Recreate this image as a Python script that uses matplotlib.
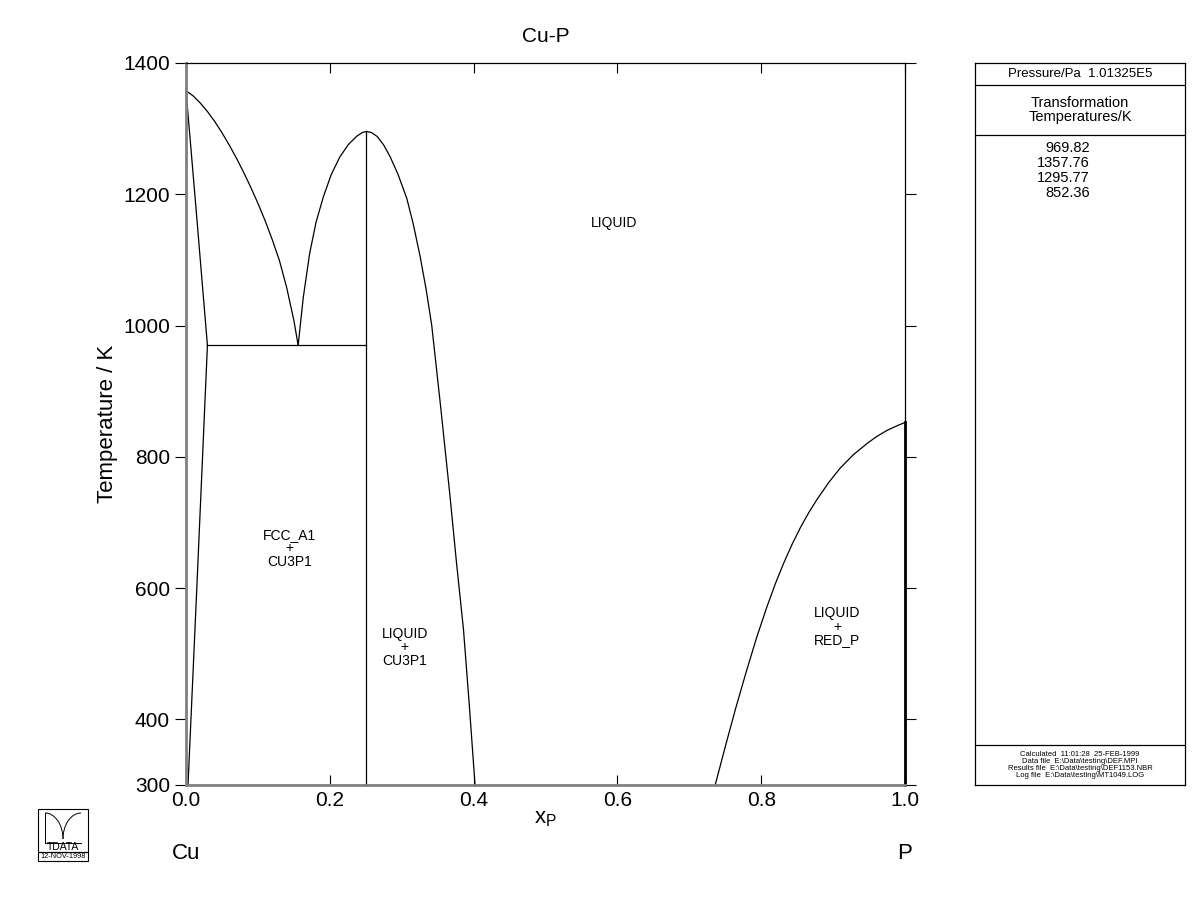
import matplotlib
matplotlib.use("Agg")
import matplotlib.pyplot as plt
from matplotlib.patches import Rectangle, Arc

plt.rcParams['font.family'] = ['Liberation Sans', 'DejaVu Sans']

# phase boundaries (x_P, T/K)
liq_cu_x = [0.0, 0.01, 0.02, 0.03, 0.04, 0.05, 0.06, 0.07, 0.08, 0.09, 0.10,
            0.11, 0.12, 0.13, 0.14, 0.15, 0.156]
liq_cu_t = [1357.76, 1349.8, 1338.8, 1325.8, 1310.8, 1293.8, 1275.3, 1255.3,
            1233.8, 1210.8, 1186.3, 1159.8, 1130.8, 1098.8, 1058, 1008, 969.82]

sol_x = [0.0, 0.007, 0.0145, 0.022, 0.0298]
sol_t = [1357.76, 1268, 1171, 1072, 969.82]

solvus_x = [0.0298, 0.0145, 0.0028]
solvus_t = [969.82, 587, 300]

eut_x = [0.0298, 0.251]
eut_t = [969.82, 969.82]

cu3p_x = [0.251, 0.251]
cu3p_t = [300, 1295.77]

liq_c3_x = [0.156, 0.163, 0.172, 0.181, 0.191, 0.202, 0.214, 0.226, 0.237, 0.245,
            0.251, 0.258, 0.266, 0.275, 0.284, 0.295, 0.307, 0.316, 0.3255, 0.334,
            0.3418, 0.354, 0.367, 0.376, 0.386, 0.394, 0.402]
liq_c3_t = [969.82, 1042, 1110, 1158, 1196, 1230, 1257, 1276, 1288, 1294,
            1295.77, 1294, 1288, 1275, 1257, 1230, 1194, 1155, 1106, 1055,
            1000, 878, 742, 641, 536, 422, 300]

liq_p_x = [0.736, 0.7504, 0.7648, 0.7792, 0.7936, 0.808, 0.82, 0.8315, 0.843,
           0.855, 0.866, 0.878, 0.894, 0.91, 0.928, 0.9476, 0.96, 0.975, 0.99, 1.0]
liq_p_t = [300, 360, 418, 472.5, 524.5, 571.6, 607.6, 638.6, 666.8,
           693.2, 714.7, 735.7, 761, 783, 803, 820.6, 830.5, 840.3, 847.8, 852.36]

p_x = [1.0, 1.0]
p_t = [300, 852.36]

labels = ["LIQUID", "FCC_A1\n+\nCU3P1", "LIQUID\n+\nCU3P1", "LIQUID\n+\nRED_P"]
label_x = [0.596, 0.144, 0.304, 0.906]
label_t = [1156, 661, 510, 541]

trans_temps = ["969.82", "1357.76", "1295.77", "852.36"]
info_lines = ["Calculated  11:01:28  25-FEB-1999",
              "Data file  E:\\Data\\testing\\DEF.MPI",
              "Results file  E:\\Data\\testing\\DEF1153.NBR",
              "Log file  E:\\Data\\testing\\MT1049.LOG"]

fig = plt.figure(figsize=(12, 9.23), dpi=100)
ax = fig.add_axes([186 / 1200, 1 - 785 / 923, 719 / 1200, 722 / 923])

for xs, ts in [(liq_cu_x, liq_cu_t), (sol_x, sol_t), (solvus_x, solvus_t),
               (eut_x, eut_t), (cu3p_x, cu3p_t), (liq_c3_x, liq_c3_t),
               (liq_p_x, liq_p_t)]:
    ax.plot(xs, ts, color='black', lw=0.9, clip_on=False)
ax.plot(p_x, p_t, color='black', lw=2.0, clip_on=False)

for s, x, t in zip(labels, label_x, label_t):
    ax.text(x, t, s, ha='center', va='center', fontsize=10, linespacing=0.95)

ax.set_xlim(0, 1)
ax.set_ylim(300, 1400)
ax.set_xticks([0, 0.2, 0.4, 0.6, 0.8, 1.0])
ax.set_xticklabels(['0.0', '0.2', '0.4', '0.6', '0.8', '1.0'])
ax.set_yticks([300, 400, 600, 800, 1000, 1200, 1400])
ax.tick_params(axis='x', direction='in', top=True, length=7, labelsize=15, pad=4)
ax.tick_params(axis='y', direction='out', right=True, length=8, labelsize=15)
for side in ['left', 'bottom']:
    ax.spines[side].set_color('#808080')
    ax.spines[side].set_linewidth(2)
for side in ['top', 'right']:
    ax.spines[side].set_linewidth(0.9)

ax.set_title('Cu-P', fontsize=15, pad=15)
ax.set_ylabel('Temperature / K', fontsize=16, labelpad=4)
ax.set_xlabel('x$_\\mathregular{P}$', fontsize=16, labelpad=-1)
ax.text(0.0, -0.095, 'Cu', transform=ax.transAxes, ha='center', va='center', fontsize=16)
ax.text(1.0, -0.095, 'P', transform=ax.transAxes, ha='center', va='center', fontsize=16)

# information panel on the right
pan = fig.add_axes([975 / 1200, 1 - 785 / 923, 210 / 1200, 722 / 923])
pan.set_xticks([])
pan.set_yticks([])
for sp in pan.spines.values():
    sp.set_linewidth(0.9)
pan.set_xlim(0, 1)
pan.set_ylim(785, 63)
for yy in [85, 135, 745]:
    pan.axhline(yy, color='black', lw=0.9)
pan.text(0.5, 74, 'Pressure/Pa  1.01325E5', ha='center', va='center', fontsize=9.5)
pan.text(0.5, 110, 'Transformation\nTemperatures/K', ha='center', va='center',
         fontsize=10.5, linespacing=1.0)
pan.text(0.548, 141, '\n'.join(trans_temps), ha='right', va='top',
         fontsize=10.5, linespacing=1.08)
pan.text(0.5, 765, '\n'.join(info_lines), ha='center', va='center', fontsize=5.5,
         linespacing=1.0)

# TDATA logo
logo = fig.add_axes([37 / 1200, 1 - 862 / 923, 52 / 1200, 54 / 923])
logo.set_xlim(0, 52)
logo.set_ylim(0, 54)
logo.axis('off')
logo.add_patch(Rectangle((0.5, 10), 50.5, 43.5, fill=False, lw=0.8, clip_on=False))
logo.add_patch(Rectangle((0.5, 1.5), 50.5, 8.5, fill=False, lw=0.8, clip_on=False))
logo.plot([8, 8], [19, 49], color='black', lw=0.7)
logo.plot([8, 44], [19, 19], color='black', lw=0.7)
logo.add_patch(Arc((8, 23), 36, 52, theta1=0, theta2=90, lw=0.7))
logo.add_patch(Arc((44, 23), 36, 52, theta1=90, theta2=180, lw=0.7))
logo.text(26, 14.5, 'TDATA', ha='center', va='center', fontsize=7.5)
logo.text(26, 5.5, '12-NOV-1998', ha='center', va='center', fontsize=5.3)

fig.savefig('out.png', dpi=100)
